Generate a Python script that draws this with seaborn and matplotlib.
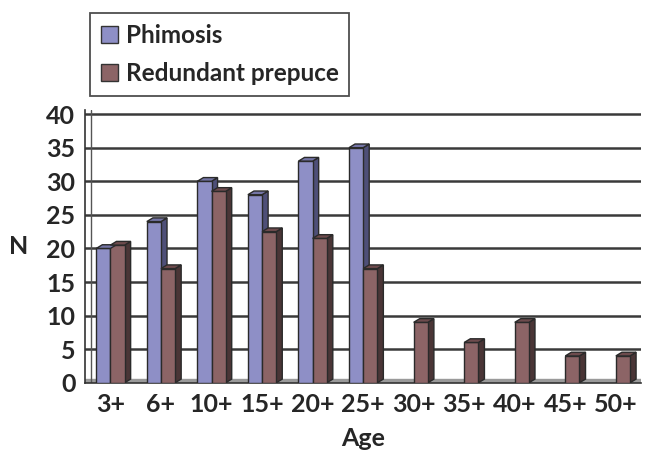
import matplotlib
matplotlib.use("Agg")
import matplotlib.pyplot as plt
from matplotlib.patches import Polygon, Patch
import seaborn as sns
import pandas as pd
import numpy as np

sns.set_style("white")
plt.rcParams['font.family'] = ['Lato', 'DejaVu Sans']
plt.rcParams['font.weight'] = 'bold'

# Data dari grafik
age_groups = ['3+', '6+', '10+', '15+', '20+', '25+', '30+', '35+', '40+', '45+', '50+']
phimosis = [20, 24, 30, 28, 33, 35, 0, 0, 0, 0, 0]
redundant_prepuce = [20.5, 17, 28.5, 22.5, 21.5, 17, 9, 6, 9, 4, 4]
series_names = ['Phimosis', 'Redundant prepuce']
y_ticks = [0, 5, 10, 15, 20, 25, 30, 35, 40]

blue = '#8e8fc6'
red = '#8c6466'
side_colors = {blue: '#4e4f78', red: '#4a3536'}
top_colors = {blue: '#7475a6', red: '#6e4b4d'}

df = pd.DataFrame({
    'Age': age_groups * 2,
    'N': phimosis + redundant_prepuce,
    'Series': [series_names[0]] * len(age_groups) + [series_names[1]] * len(age_groups),
})

fig = plt.figure(figsize=(6.45, 4.53), dpi=100)
ax = fig.add_axes([0.132, 0.155, 0.862, 0.602])

ax = sns.barplot(data=df, x='Age', y='N', hue='Series', palette=[blue, red],
                 width=0.56, saturation=1, edgecolor='#2a2a2a', linewidth=1.0,
                 legend=False, ax=ax, zorder=3)

# efek 3D sederhana (sisi kanan dan atas)
dx, dy = 0.12, 0.55
for bar in list(ax.patches):
    h = bar.get_height()
    if h <= 0:
        bar.set_visible(False)
        continue
    x0 = bar.get_x()
    w = bar.get_width()
    fc = matplotlib.colors.to_hex(bar.get_facecolor())
    side = Polygon([[x0 + w, 0], [x0 + w + dx, dy], [x0 + w + dx, h + dy], [x0 + w, h]],
                   closed=True, facecolor=side_colors.get(fc, '#444'), edgecolor='#2a2a2a',
                   lw=1.0, zorder=2.9)
    top = Polygon([[x0, h], [x0 + dx, h + dy], [x0 + w + dx, h + dy], [x0 + w, h]],
                  closed=True, facecolor=top_colors.get(fc, '#666'), edgecolor='#2a2a2a',
                  lw=1.0, zorder=3.1)
    ax.add_patch(side)
    ax.add_patch(top)

# lantai abu-abu
ax.axhspan(0, dy, xmin=0.0, xmax=1.0, color='#9a9a9a', zorder=1)
# dinding kiri
ax.axvline(-0.5 + dx, color='#555', lw=1.0, zorder=1)

ax.set_xlim(-0.5, len(age_groups) - 0.5)
ax.set_ylim(0, 40.6)
ax.set_yticks(y_ticks)
ax.yaxis.grid(True, color='#3a3a3a', linewidth=1.8, zorder=0)
ax.set_axisbelow(True)

ax.set_xticks(np.arange(len(age_groups) + 1) - 0.5, minor=True)
ax.tick_params(axis='x', which='major', length=0, labelsize=18, pad=7)
ax.tick_params(axis='x', which='minor', length=5, width=1.2, color='#333')
ax.tick_params(axis='y', which='major', length=5, width=1.2, color='#333', labelsize=18, pad=2)

for s in ['top', 'right']:
    ax.spines[s].set_visible(False)
ax.spines['left'].set_color('#333')
ax.spines['bottom'].set_color('#333')
ax.spines['left'].set_linewidth(1.2)
ax.spines['bottom'].set_linewidth(1.2)

ax.set_xlabel('Age', fontsize=18, fontweight='bold', labelpad=8)
ax.set_ylabel('N', fontsize=18, fontweight='bold', rotation=0, labelpad=20, va='center')

handles = [Patch(facecolor=blue, edgecolor='#333'), Patch(facecolor=red, edgecolor='#333')]
leg = fig.legend(handles, series_names, loc='upper left', bbox_to_anchor=(0.14, 0.972),
                 frameon=True, fancybox=False, fontsize=17.5, handlelength=0.7, handleheight=0.7,
                 handletextpad=0.3, labelspacing=0.62, borderpad=0.45, borderaxespad=0)
leg.get_frame().set_edgecolor('#222')
leg.get_frame().set_linewidth(1.3)
for t in leg.get_texts():
    t.set_fontweight('bold')

plt.savefig('out.png', dpi=100)
